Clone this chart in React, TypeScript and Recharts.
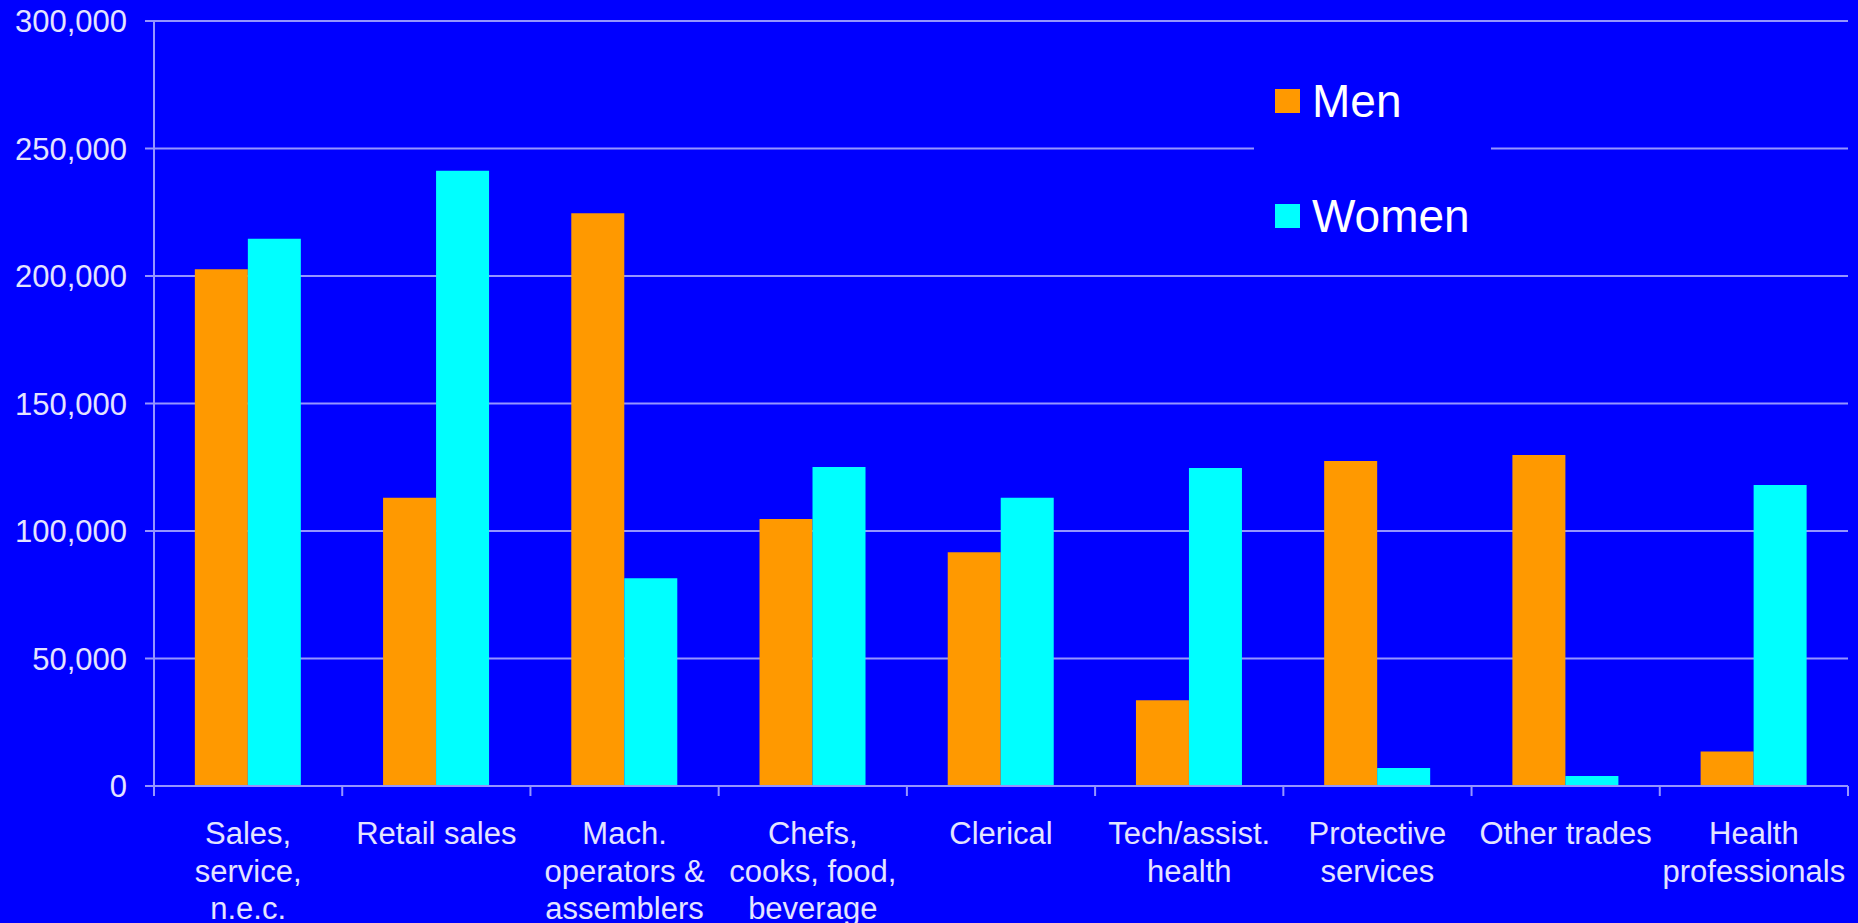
import { Bar, BarChart, CartesianGrid, Legend, XAxis, YAxis } from "recharts";

const categories = [
  "Sales,\nservice,\nn.e.c.",
  "Retail sales",
  "Mach.\noperators &\nassemblers",
  "Chefs,\ncooks, food,\nbeverage",
  "Clerical",
  "Tech/assist.\nhealth",
  "Protective\nservices",
  "Other trades",
  "Health\nprofessionals",
];
const men = [202600, 113000, 224600, 104700, 91700, 33600, 127500, 129800, 13500];
const women = [214600, 241300, 81500, 125100, 113000, 124700, 7100, 3900, 118000];
const yTicks = [0, 50000, 100000, 150000, 200000, 250000, 300000];
const seriesNames = ["Men", "Women"];
const seriesColors = ["#ff9900", "#00ffff"];

const data = categories.map((name, i) => ({ name, Men: men[i], Women: women[i] }));

const font = "'Liberation Sans', Arial, sans-serif";
const lineColor = "#9595ff";
const textColor = "#e4e4ff";

// category labels sit under the band, tick marks go on the band edges
function CategoryTick(props: any) {
  const { x, y, payload, index, visibleTicksCount } = props;
  const half = payload?.offset || 94.1;
  const lines = String(payload.value).split("\n");
  return (
    <g>
      <line x1={x - half} x2={x - half} y1={y} y2={y + 10} stroke={lineColor} strokeWidth={2} />
      {index === visibleTicksCount - 1 && (
        <line x1={x + half} x2={x + half} y1={y} y2={y + 10} stroke={lineColor} strokeWidth={2} />
      )}
      <text x={x} y={y + 58} textAnchor="middle" fill={textColor} fontSize={31} fontFamily={font}>
        {lines.map((l, i) => (
          <tspan key={i} x={x} dy={i === 0 ? 0 : 37.5}>
            {l}
          </tspan>
        ))}
      </text>
    </g>
  );
}

function LegendBox() {
  return (
    <div style={{ width: 237, height: 190, background: "#0000ff", position: "relative", fontFamily: font }}>
      {seriesNames.map((name, i) => (
        <div
          key={name}
          style={{ position: "absolute", left: 21, top: 41 + i * 115 - 25, height: 50, display: "flex", alignItems: "center" }}
        >
          <div style={{ width: 25, height: 24, background: seriesColors[i], marginRight: 12 }} />
          <span style={{ color: "#ffffff", fontSize: 46, lineHeight: 1 }}>{name}</span>
        </div>
      ))}
    </div>
  );
}

export default function App() {
  return (
    <div style={{ position: "absolute", left: 0, top: 0, width: 1858, height: 923, background: "#0000ff" }}>
      <BarChart
        width={1858}
        height={923}
        data={data}
        margin={{ top: 21, right: 10, left: 0, bottom: 0 }}
        barCategoryGap="21.7%"
        barGap={0}
      >
        <CartesianGrid vertical={false} stroke={lineColor} strokeWidth={2} />
        <XAxis
          dataKey="name"
          height={137}
          interval={0}
          tickSize={0}
          tickMargin={0}
          axisLine={{ stroke: lineColor, strokeWidth: 2 }}
          tickLine={false}
          tick={<CategoryTick />}
        />
        <YAxis
          width={154}
          domain={[0, 300000]}
          ticks={yTicks}
          tickSize={9}
          tickMargin={18}
          axisLine={{ stroke: lineColor, strokeWidth: 2 }}
          tickLine={{ stroke: lineColor, strokeWidth: 2 }}
          tick={{ fill: textColor, fontSize: 31, fontFamily: font }}
          tickFormatter={(v: number) => v.toLocaleString("en-US")}
        />
        <Legend
          layout="vertical"
          align="center"
          verticalAlign="middle"
          content={<LegendBox />}
          wrapperStyle={{ left: 1254, top: 60, width: 237 }}
        />
        {seriesNames.map((s, i) => (
          <Bar key={s} dataKey={s} fill={seriesColors[i]} isAnimationActive={false} />
        ))}
      </BarChart>
    </div>
  );
}
